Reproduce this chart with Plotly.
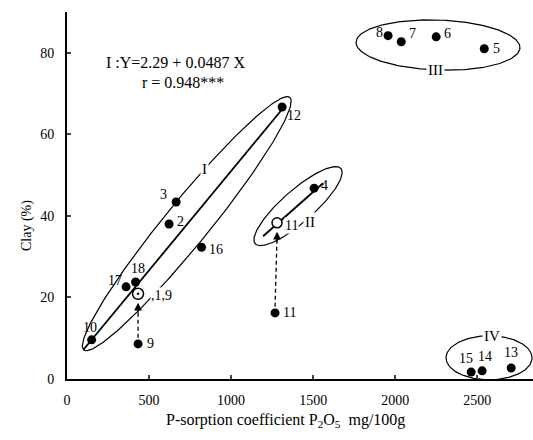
import numpy as np
import plotly.graph_objects as go

# ---- data ----
pt_labels = ["3", "2", "16", "17", "18", "10", "9", "12", "4", "11",
             "8", "7", "6", "5", "15", "14", "13"]
pt_x = [665, 622, 820, 360, 418, 150, 433, 1311, 1506, 1268,
        1957, 2037, 2250, 2543, 2463, 2530, 2707]
pt_y = [43.4, 38.0, 32.3, 22.6, 23.8, 9.6, 8.6, 66.7, 46.8, 16.2,
        84.2, 82.7, 83.9, 81.0, 1.7, 2.0, 2.7]

open_labels = ["11"]
open_x = [1280]
open_y = [38.3]

dot_labels = ["1,9"]
dot_x = [433]
dot_y = [20.9]

reg_a, reg_b = 2.29, 0.0487
reg_x = [100, 1330]
line2_x = [1195, 1560]
line2_y = [35.0, 48.0]

x_ticks = [0, 500, 1000, 1500, 2000, 2500]
y_ticks = [0, 20, 40, 60, 80]

# label offsets (px): (xshift, yshift)
lab_off = {"3": (-13, 8), "2": (11, 3), "16": (14, -2), "17": (-11, 6), "18": (2, 13),
           "10": (-2, 12), "9": (12, 0), "12": (12, -8), "4": (10, 3), "11": (14, 0),
           "8": (-9, 3), "7": (11, 8), "6": (11, 3), "5": (12, 0), "15": (-5, 14),
           "14": (3, 14), "13": (0, 15)}

FONT = "Liberation Serif"
X_MAX, Y_MAX = 2840, 90
L, R, T, B = 67, 0, 12, 61
W, H = 533, 440
sx = (W - L - R) / X_MAX
sy = (H - T - B) / Y_MAX

fig = go.Figure()

def ellipse(cx, cy, a_px, b_px, ang_deg):
    t = np.linspace(0, 2 * np.pi, 200)
    ang = np.radians(ang_deg)
    ex = a_px * np.cos(t) * np.cos(ang) - b_px * np.sin(t) * np.sin(ang)
    ey = a_px * np.cos(t) * np.sin(ang) + b_px * np.sin(t) * np.cos(ang)
    return cx + ex / sx, cy + ey / sy

for (cx, cy, a, b, ang) in [(730, 38.1, 163, 22, 50.8), (1408, 42.4, 57, 16, 41.3),
                            (2261, 81.9, 82, 25, -2), (2572, 5.2, 43, 22, 0)]:
    ex, ey = ellipse(cx, cy, a, b, ang)
    fig.add_trace(go.Scatter(x=ex, y=ey, mode="lines", line=dict(color="black", width=1.2),
                             hoverinfo="skip", showlegend=False))

# regression line I
fig.add_trace(go.Scatter(x=reg_x, y=[reg_a + reg_b * v for v in reg_x], mode="lines",
                         line=dict(color="black", width=1.8), showlegend=False))
# line II
fig.add_trace(go.Scatter(x=line2_x, y=line2_y, mode="lines",
                         line=dict(color="black", width=1.8), showlegend=False))

# dashed arrows
for (x0, y0, x1, y1) in [(dot_x[0], pt_y[6], dot_x[0], dot_y[0]), (pt_x[9], pt_y[9], open_x[0], open_y[0])]:
    fig.add_trace(go.Scatter(x=[x0, x1], y=[y0 + 1.5, y1 - 3.5], mode="lines",
                             line=dict(color="black", width=1.3, dash="4px,3px"), showlegend=False))
    fig.add_annotation(x=x1, y=y1 - 2.2, ax=x1, ay=y1 - 5, xref="x", yref="y", axref="x", ayref="y",
                       text="", showarrow=True, arrowhead=2, arrowsize=1.2, arrowwidth=1.3, arrowcolor="black")

fig.add_trace(go.Scatter(x=pt_x, y=pt_y, mode="markers",
                         marker=dict(color="black", size=9), showlegend=False))
fig.add_trace(go.Scatter(x=open_x, y=open_y, mode="markers",
                         marker=dict(color="white", size=10, line=dict(color="black", width=1.5)),
                         showlegend=False))
fig.add_trace(go.Scatter(x=dot_x, y=dot_y, mode="markers",
                         marker=dict(symbol="circle-dot", color="white", size=11,
                                     line=dict(color="black", width=1.5)), showlegend=False))

tf = dict(family=FONT, size=14, color="black")
for lab, x, y in zip(pt_labels, pt_x, pt_y):
    dx, dy = lab_off[lab]
    fig.add_annotation(x=x, y=y, text=lab, showarrow=False, xshift=dx, yshift=dy, font=tf)
fig.add_annotation(x=open_x[0], y=open_y[0], text="11", showarrow=False, xshift=14, yshift=-3,
                   font=tf, bgcolor="white", borderpad=0)
fig.add_annotation(x=dot_x[0], y=dot_y[0], text=",1,9", showarrow=False, xshift=23, yshift=-2,
                   font=tf, bgcolor="white", borderpad=0)

# group labels
gf = dict(family=FONT, size=15, color="black")
for txt, x, y in [("I", 838, 51.5), ("II", 1480, 38.5), ("III", 2243, 75.7), ("IV", 2590, 10.5)]:
    fig.add_annotation(x=x, y=y, text=txt, showarrow=False, font=gf, bgcolor="white", borderpad=1)

ef = dict(family=FONT, size=16, color="black")
fig.add_annotation(x=660, y=77.5, text="I :Y=2.29 + 0.0487 X", showarrow=False, font=ef)
fig.add_annotation(x=707, y=72.8, text="r = 0.948***", showarrow=False, font=ef)

# axis titles
fig.add_annotation(xref="paper", yref="paper", x=(285 - L) / (W - L - R), y=-(432 - (H - B)) / (H - T - B),
                   text="P-sorption coefficient P<sub>2</sub>O<sub>5</sub>  mg/100g", showarrow=False,
                   font=dict(family=FONT, size=16, color="black"))
fig.add_annotation(xref="paper", yref="paper", x=-(L - 17) / (W - L - R), y=((H - B) - 226) / (H - T - B),
                   text="Clay (%)", textangle=-90, showarrow=False,
                   font=dict(family=FONT, size=14, color="black"))

fig.update_layout(
    width=W, height=H, margin=dict(l=L, r=R, t=T, b=B),
    plot_bgcolor="white", paper_bgcolor="white",
    font=dict(family=FONT, size=14, color="black"),
    xaxis=dict(range=[0, X_MAX], tickvals=x_ticks, ticks="inside", ticklen=4, tickwidth=1.5,
               showline=True, linecolor="black", linewidth=2, showgrid=False, zeroline=False,
               tickfont=dict(family=FONT, size=14), ticklabelstandoff=7),
    yaxis=dict(range=[0, Y_MAX], tickvals=y_ticks, ticks="inside", ticklen=4, tickwidth=1.5,
               showline=True, linecolor="black", linewidth=2, showgrid=False, zeroline=False,
               tickfont=dict(family=FONT, size=14), ticklabelstandoff=8),
)

fig.write_html("out.html")
